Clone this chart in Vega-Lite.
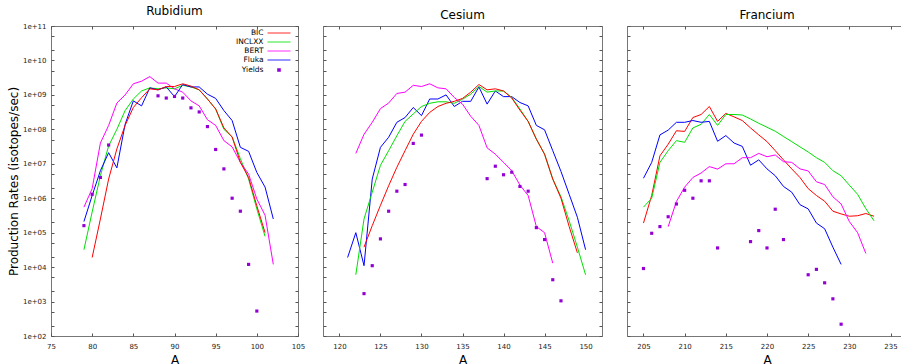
{
  "$schema": "https://vega.github.io/schema/vega-lite/v6.json",
  "autosize": {"type": "pad"},
  "padding": {"left": 6, "top": 4, "right": 0, "bottom": 0},
  "background": "white",
  "spacing": 25,
  "bounds": "flush",
  "config": {
    "font": "DejaVu Sans",
    "view": {"stroke": "#777", "strokeWidth": 1},
    "title": {"fontSize": 12, "fontWeight": "normal", "anchor": "middle", "baseline": "alphabetic", "offset": 4, "color": "#000", "font": "DejaVu Sans"},
    "axis": {"domain": false, "grid": false, "ticks": true, "tickSize": -3, "tickColor": "#555", "tickWidth": 1, "labelFontSize": 7, "labelColor": "#222", "labelFont": "DejaVu Sans", "labelFlush": false, "labelOverlap": false, "titleFontSize": 12, "titleFontWeight": "normal", "titleColor": "#000", "titleFont": "DejaVu Sans"},
    "axisX": {"labelPadding": 9, "titlePadding": 5},
    "axisY": {"labelPadding": 8, "titlePadding": 2}
  },
  "data": {"values": [
    {"p":"Rb","A":79,"INCLXX":3.2e4,"BERT":5.5e5,"Fluka":2.1e5,"Yields":1.6e5},
    {"p":"Rb","A":80,"BIC":1.9e4,"INCLXX":4e5,"BERT":1.9e6,"Fluka":1.2e6,"Yields":1.3e6},
    {"p":"Rb","A":81,"BIC":2.5e5,"INCLXX":4.5e6,"BERT":4e7,"Fluka":6.3e6,"Yields":4e6},
    {"p":"Rb","A":82,"BIC":3.6e6,"INCLXX":3.3e7,"BERT":1.3e8,"Fluka":2.1e7,"Yields":3.5e7},
    {"p":"Rb","A":83,"BIC":2.7e7,"INCLXX":1e8,"BERT":5.8e8,"Fluka":7.6e6},
    {"p":"Rb","A":84,"BIC":1.3e8,"INCLXX":3.5e8,"BERT":1e9,"Fluka":1.4e8},
    {"p":"Rb","A":85,"BIC":4.3e8,"INCLXX":7.6e8,"BERT":2.1e9,"Fluka":6.7e8},
    {"p":"Rb","A":86,"BIC":8.3e8,"INCLXX":1.3e9,"BERT":2.5e9,"Fluka":4.8e8},
    {"p":"Rb","A":87,"BIC":1.5e9,"INCLXX":1.6e9,"BERT":3.4e9,"Fluka":1.6e9},
    {"p":"Rb","A":88,"BIC":1.4e9,"INCLXX":1.5e9,"BERT":2.2e9,"Fluka":1.4e9,"Yields":9.4e8},
    {"p":"Rb","A":89,"BIC":1.75e9,"INCLXX":1.6e9,"BERT":2.2e9,"Fluka":1.7e9,"Yields":8.1e8},
    {"p":"Rb","A":90,"BIC":1.75e9,"INCLXX":1.5e9,"BERT":1.5e9,"Fluka":8.9e8,"Yields":9e8},
    {"p":"Rb","A":91,"BIC":2.1e9,"INCLXX":1.9e9,"BERT":1.2e9,"Fluka":2e9,"Yields":8.1e8},
    {"p":"Rb","A":92,"BIC":1.8e9,"INCLXX":1.7e9,"BERT":6.7e8,"Fluka":1.7e9,"Yields":4.2e8},
    {"p":"Rb","A":93,"BIC":1.4e9,"INCLXX":1.4e9,"BERT":4.8e8,"Fluka":1.7e9,"Yields":3.2e8},
    {"p":"Rb","A":94,"BIC":7.6e8,"INCLXX":7.6e8,"BERT":1.9e8,"Fluka":1.05e9,"Yields":1.2e8},
    {"p":"Rb","A":95,"BIC":3.9e8,"INCLXX":3.9e8,"BERT":1.3e8,"Fluka":7.9e8,"Yields":2.6e7},
    {"p":"Rb","A":96,"BIC":1.1e8,"INCLXX":1e8,"BERT":4.7e7,"Fluka":3.5e8,"Yields":7.1e6},
    {"p":"Rb","A":97,"BIC":6e7,"INCLXX":6e7,"BERT":3.1e7,"Fluka":1.8e8,"Yields":1e6},
    {"p":"Rb","A":98,"BIC":1.1e7,"INCLXX":1.4e7,"BERT":1.1e7,"Fluka":3e7,"Yields":4.2e5},
    {"p":"Rb","A":99,"BIC":4e6,"INCLXX":3.6e6,"BERT":5e6,"Fluka":2.3e7,"Yields":1.2e4},
    {"p":"Rb","A":100,"BIC":6e5,"INCLXX":4.9e5,"BERT":9.5e5,"Fluka":5.6e6,"Yields":5.3e2},
    {"p":"Rb","A":101,"BIC":1e5,"INCLXX":7.8e4,"BERT":3.2e5,"Fluka":2.1e6},
    {"p":"Rb","A":102,"BERT":1.2e4,"Fluka":2.5e5},
    {"p":"Cs","A":121,"Fluka":1.9e4},
    {"p":"Cs","A":122,"INCLXX":6e3,"BERT":2e7,"Fluka":1e5},
    {"p":"Cs","A":123,"BIC":3.8e4,"INCLXX":2.5e5,"BERT":7.2e7,"Fluka":1.1e4,"Yields":1.7e3},
    {"p":"Cs","A":124,"BIC":1.6e5,"INCLXX":1.5e6,"BERT":1.6e8,"Fluka":3.6e6,"Yields":1.1e4},
    {"p":"Cs","A":125,"BIC":6.2e5,"INCLXX":9e6,"BERT":4e8,"Fluka":3e7,"Yields":6.6e4},
    {"p":"Cs","A":126,"BIC":2.3e6,"INCLXX":2.4e7,"BERT":5.8e8,"Fluka":5.9e7,"Yields":4.2e5},
    {"p":"Cs","A":127,"BIC":7.9e6,"INCLXX":6.5e7,"BERT":1.1e9,"Fluka":1.6e8,"Yields":1.6e6},
    {"p":"Cs","A":128,"BIC":2.4e7,"INCLXX":1.7e8,"BERT":1.2e9,"Fluka":2.2e8,"Yields":2.5e6},
    {"p":"Cs","A":129,"BIC":7.2e7,"INCLXX":2.8e8,"BERT":1.9e9,"Fluka":4.3e8,"Yields":3.9e7},
    {"p":"Cs","A":130,"BIC":1.7e8,"INCLXX":4.6e8,"BERT":1.75e9,"Fluka":2.5e8,"Yields":6.8e7},
    {"p":"Cs","A":131,"BIC":3.1e8,"INCLXX":5.7e8,"BERT":2.1e9,"Fluka":7.6e8},
    {"p":"Cs","A":132,"BIC":4.6e8,"INCLXX":6.3e8,"BERT":1.6e9,"Fluka":7.6e8},
    {"p":"Cs","A":133,"BIC":5.7e8,"INCLXX":6.3e8,"BERT":1.5e9,"Fluka":1e9},
    {"p":"Cs","A":134,"BIC":6.5e8,"INCLXX":5.7e8,"BERT":8.4e8,"Fluka":4.6e8},
    {"p":"Cs","A":135,"BIC":7.9e8,"INCLXX":7.5e8,"BERT":5.4e8,"Fluka":6.5e8},
    {"p":"Cs","A":136,"BIC":1.2e9,"INCLXX":1.05e9,"BERT":2.4e8,"Fluka":6.5e8},
    {"p":"Cs","A":137,"BIC":2e9,"INCLXX":1.75e9,"BERT":1.3e8,"Fluka":1.7e9},
    {"p":"Cs","A":138,"BIC":1.4e9,"INCLXX":1.2e9,"BERT":2.9e7,"Fluka":5.4e8,"Yields":3.7e6},
    {"p":"Cs","A":139,"BIC":1.5e9,"INCLXX":1.3e9,"BERT":1.9e7,"Fluka":1.3e9,"Yields":8.5e6},
    {"p":"Cs","A":140,"BIC":1.3e9,"INCLXX":1.3e9,"BERT":1.1e7,"Fluka":8.9e8,"Yields":4.8e6},
    {"p":"Cs","A":141,"BIC":8.1e8,"INCLXX":8.4e8,"BERT":6.3e6,"Fluka":8.9e8,"Yields":5.7e6},
    {"p":"Cs","A":142,"BIC":3.6e8,"INCLXX":3.9e8,"BERT":2.4e6,"Fluka":6e8,"Yields":2.2e6},
    {"p":"Cs","A":143,"BIC":1.7e8,"INCLXX":1.7e8,"BERT":1.2e6,"Fluka":4.8e8,"Yields":1.6e6},
    {"p":"Cs","A":144,"BIC":5.2e7,"INCLXX":5.2e7,"BERT":1.5e5,"Fluka":1.3e8,"Yields":1.4e5},
    {"p":"Cs","A":145,"BIC":1.9e7,"INCLXX":1.9e7,"BERT":1e5,"Fluka":9.7e7,"Yields":6.3e4},
    {"p":"Cs","A":146,"BIC":3.6e6,"INCLXX":3.6e6,"BERT":1.3e4,"Fluka":2.4e7,"Yields":4.3e3},
    {"p":"Cs","A":147,"BIC":1e6,"INCLXX":1.1e6,"Fluka":6e6,"Yields":1.05e3},
    {"p":"Cs","A":148,"BIC":1.5e5,"INCLXX":2.2e5,"Fluka":1.3e6},
    {"p":"Cs","A":149,"BIC":2.6e4,"INCLXX":3.8e4,"Fluka":2.8e5},
    {"p":"Cs","A":150,"INCLXX":6e3,"Fluka":3.2e4},
    {"p":"Fr","A":205,"BIC":1.9e5,"INCLXX":5.5e5,"Fluka":3.8e6,"Yields":9.1e3},
    {"p":"Fr","A":206,"BIC":1.2e6,"INCLXX":1e6,"Fluka":1.1e7,"Yields":9.6e4},
    {"p":"Fr","A":207,"BIC":1.7e7,"INCLXX":1.1e7,"Fluka":6.9e7,"Yields":1.5e5},
    {"p":"Fr","A":208,"BIC":3.7e7,"INCLXX":2.4e7,"BERT":1.5e5,"Fluka":9.5e7,"Yields":2.9e5},
    {"p":"Fr","A":209,"BIC":9.1e7,"INCLXX":4.7e7,"BERT":8e5,"Fluka":1.6e8,"Yields":6.8e5},
    {"p":"Fr","A":210,"BIC":8.7e7,"INCLXX":4.2e7,"BERT":2.1e6,"Fluka":1.6e8,"Yields":1.7e6},
    {"p":"Fr","A":211,"BIC":2.2e8,"INCLXX":1.1e8,"BERT":4e6,"Fluka":1.8e8,"Yields":1e6},
    {"p":"Fr","A":212,"BIC":2.7e8,"INCLXX":1.4e8,"BERT":5.4e6,"Fluka":1.6e8,"Yields":3.2e6},
    {"p":"Fr","A":213,"BIC":4.6e8,"INCLXX":2.7e8,"BERT":8.3e6,"Fluka":1.7e8,"Yields":3.2e6},
    {"p":"Fr","A":214,"BIC":1.7e8,"INCLXX":1.3e8,"BERT":7e6,"Fluka":4.5e7,"Yields":3.6e4},
    {"p":"Fr","A":215,"BIC":2.9e8,"INCLXX":2.7e8,"BERT":1e7,"Fluka":6.6e7},
    {"p":"Fr","A":216,"BIC":2.3e8,"INCLXX":2.7e8,"BERT":1e7,"Fluka":4e7},
    {"p":"Fr","A":217,"BIC":1.8e8,"INCLXX":2.6e8,"BERT":1.5e7,"Fluka":3.2e7},
    {"p":"Fr","A":218,"BIC":1.1e8,"INCLXX":2e8,"BERT":1.5e7,"Fluka":9.1e6,"Yields":5.5e4},
    {"p":"Fr","A":219,"BIC":6.9e7,"INCLXX":1.5e8,"BERT":2e7,"Fluka":1.3e7,"Yields":1.15e5},
    {"p":"Fr","A":220,"BIC":4.4e7,"INCLXX":1.15e8,"BERT":1.6e7,"Fluka":7.1e6,"Yields":3.6e4},
    {"p":"Fr","A":221,"BIC":2.4e7,"INCLXX":8.8e7,"BERT":1.8e7,"Fluka":4.5e6,"Yields":4.8e5},
    {"p":"Fr","A":222,"BIC":1.3e7,"INCLXX":6.2e7,"BERT":1.15e7,"Fluka":2.2e6,"Yields":6.3e4},
    {"p":"Fr","A":223,"BIC":7.1e6,"INCLXX":4.4e7,"BERT":1.1e7,"Fluka":1.5e6},
    {"p":"Fr","A":224,"BIC":4e6,"INCLXX":3.1e7,"BERT":7.1e6,"Fluka":6.5e5},
    {"p":"Fr","A":225,"BIC":1.9e6,"INCLXX":2.2e7,"BERT":6.2e6,"Fluka":4.9e5,"Yields":6e3},
    {"p":"Fr","A":226,"BIC":1.2e6,"INCLXX":1.5e7,"BERT":3e6,"Fluka":1.9e5,"Yields":8.6e3},
    {"p":"Fr","A":227,"BIC":8.2e5,"INCLXX":1.1e7,"BERT":2.5e6,"Fluka":1.3e5,"Yields":3.5e3},
    {"p":"Fr","A":228,"BIC":4.2e5,"INCLXX":6.3e6,"BERT":1.1e6,"Fluka":3.8e4,"Yields":1.2e3},
    {"p":"Fr","A":229,"BIC":3.5e5,"INCLXX":4.5e6,"BERT":6.8e5,"Fluka":1.2e4,"Yields":2.2e2},
    {"p":"Fr","A":230,"BIC":3e5,"INCLXX":2.4e6,"BERT":2.1e5},
    {"p":"Fr","A":231,"BIC":3.1e5,"INCLXX":1.3e6,"BERT":1e5},
    {"p":"Fr","A":232,"BIC":3.6e5,"INCLXX":5e5,"BERT":2.5e4},
    {"p":"Fr","A":233,"BIC":3e5,"INCLXX":2.2e5}
  ]},
  "resolve": {"scale": {"color": "independent"}, "legend": {"color": "independent"}},
  "hconcat": [
    {
      "width": 247, "height": 310,
      "title": "Rubidium",
      "transform": [{"filter": "datum.p == 'Rb'"}],
      "resolve": {"axis": {"x": "independent", "y": "independent"}},
      "layer": [
        {
          "transform": [{"fold": ["BIC", "INCLXX", "BERT", "Fluka"], "as": ["s", "r"]}, {"filter": "isValid(datum.r)"}],
          "mark": {"type": "line", "strokeWidth": 1},
          "encoding": {
            "x": {"field": "A", "type": "quantitative", "scale": {"domain": [75, 105], "nice": false, "zero": false}, "axis": {"orient": "bottom", "values": [75, 80, 85, 90, 95, 100, 105], "title": "A"}},
            "y": {"field": "r", "type": "quantitative", "scale": {"type": "log", "domain": [100, 1e11], "nice": false}, "axis": {"orient": "left", "title": "Production Rates (isotopes/sec)", "values": [100,200,500,1000,2000,5000,1e4,2e4,5e4,1e5,2e5,5e5,1e6,2e6,5e6,1e7,2e7,5e7,1e8,2e8,5e8,1e9,2e9,5e9,1e10,2e10,5e10,1e11], "labelExpr": "abs(datum.value / pow(10, round(log(datum.value)/LN10)) - 1) < 0.01 ? '1e+' + (round(log(datum.value)/LN10) < 10 ? '0' : '') + round(log(datum.value)/LN10) : ''"}},
            "color": {"field": "s", "type": "nominal", "scale": {"domain": ["BIC", "INCLXX", "BERT", "Fluka", "Yields"], "range": ["#ff0000", "#00e000", "#ff00ff", "#0000ff", "#9400d3"]},
              "legend": {"orient": "none", "legendX": 224, "legendY": 3, "title": null, "padding": 0, "labelAlign": "right", "labelOffset": -19.5, "labelFontSize": 7.5, "labelColor": "#000", "symbolSize": 36, "symbolStrokeWidth": 1.5, "rowPadding": 1,
                "encode": {"symbols": {"update": {
                  "shape": {"signal": "datum.value === 'Yields' ? 'M-0.35,-0.35H0.35V0.35H-0.35Z' : 'M-3.83,0H3.83'"},
                  "fill": {"signal": "datum.value === 'Yields' ? '#9400d3' : 'transparent'"},
                  "opacity": {"signal": "datum.value === 'Yields' ? 1 : 0.55"}
                }}}}}
          }
        },
        {
          "transform": [{"filter": "isValid(datum.Yields)"}],
          "mark": {"type": "square", "size": 10, "color": "#9400d3", "opacity": 1},
          "encoding": {
            "x": {"field": "A", "type": "quantitative", "scale": {"domain": [75, 105], "nice": false, "zero": false}, "axis": {"orient": "top", "values": [75, 80, 85, 90, 95, 100, 105], "labels": false, "title": null}},
            "y": {"field": "Yields", "type": "quantitative", "scale": {"type": "log", "domain": [100, 1e11], "nice": false}, "axis": {"orient": "right", "labels": false, "title": null, "values": [100,200,500,1000,2000,5000,1e4,2e4,5e4,1e5,2e5,5e5,1e6,2e6,5e6,1e7,2e7,5e7,1e8,2e8,5e8,1e9,2e9,5e9,1e10,2e10,5e10,1e11]}}
          }
        }
      ]
    },
    {
      "width": 279, "height": 310,
      "title": "Cesium",
      "transform": [{"filter": "datum.p == 'Cs'"}],
      "resolve": {"axis": {"x": "independent", "y": "independent"}},
      "layer": [
        {
          "transform": [{"fold": ["BIC", "INCLXX", "BERT", "Fluka"], "as": ["s", "r"]}, {"filter": "isValid(datum.r)"}],
          "mark": {"type": "line", "strokeWidth": 1},
          "encoding": {
            "x": {"field": "A", "type": "quantitative", "scale": {"domain": [118, 152], "nice": false, "zero": false}, "axis": {"orient": "bottom", "values": [120, 125, 130, 135, 140, 145, 150], "title": "A"}},
            "y": {"field": "r", "type": "quantitative", "scale": {"type": "log", "domain": [100, 1e11], "nice": false}, "axis": {"orient": "left", "title": null, "labels": false, "values": [100,200,500,1000,2000,5000,1e4,2e4,5e4,1e5,2e5,5e5,1e6,2e6,5e6,1e7,2e7,5e7,1e8,2e8,5e8,1e9,2e9,5e9,1e10,2e10,5e10,1e11]}},
            "color": {"field": "s", "type": "nominal", "scale": {"domain": ["BIC", "INCLXX", "BERT", "Fluka", "Yields"], "range": ["#ff0000", "#00e000", "#ff00ff", "#0000ff", "#9400d3"]}, "legend": null}
          }
        },
        {
          "transform": [{"filter": "isValid(datum.Yields)"}],
          "mark": {"type": "square", "size": 10, "color": "#9400d3", "opacity": 1},
          "encoding": {
            "x": {"field": "A", "type": "quantitative", "scale": {"domain": [118, 152], "nice": false, "zero": false}, "axis": {"orient": "top", "values": [120, 125, 130, 135, 140, 145, 150], "labels": false, "title": null}},
            "y": {"field": "Yields", "type": "quantitative", "scale": {"type": "log", "domain": [100, 1e11], "nice": false}, "axis": {"orient": "right", "labels": false, "title": null, "values": [100,200,500,1000,2000,5000,1e4,2e4,5e4,1e5,2e5,5e5,1e6,2e6,5e6,1e7,2e7,5e7,1e8,2e8,5e8,1e9,2e9,5e9,1e10,2e10,5e10,1e11]}}
          }
        }
      ]
    },
    {
      "width": 280, "height": 310,
      "title": "Francium",
      "transform": [{"filter": "datum.p == 'Fr'"}],
      "resolve": {"axis": {"x": "independent", "y": "independent"}},
      "layer": [
        {
          "transform": [{"fold": ["BIC", "INCLXX", "BERT", "Fluka"], "as": ["s", "r"]}, {"filter": "isValid(datum.r)"}],
          "mark": {"type": "line", "strokeWidth": 1},
          "encoding": {
            "x": {"field": "A", "type": "quantitative", "scale": {"domain": [203, 237], "nice": false, "zero": false}, "axis": {"orient": "bottom", "values": [205, 210, 215, 220, 225, 230, 235], "title": "A"}},
            "y": {"field": "r", "type": "quantitative", "scale": {"type": "log", "domain": [100, 1e11], "nice": false}, "axis": {"orient": "left", "title": null, "labels": false, "values": [100,200,500,1000,2000,5000,1e4,2e4,5e4,1e5,2e5,5e5,1e6,2e6,5e6,1e7,2e7,5e7,1e8,2e8,5e8,1e9,2e9,5e9,1e10,2e10,5e10,1e11]}},
            "color": {"field": "s", "type": "nominal", "scale": {"domain": ["BIC", "INCLXX", "BERT", "Fluka", "Yields"], "range": ["#ff0000", "#00e000", "#ff00ff", "#0000ff", "#9400d3"]}, "legend": null}
          }
        },
        {
          "transform": [{"filter": "isValid(datum.Yields)"}],
          "mark": {"type": "square", "size": 10, "color": "#9400d3", "opacity": 1},
          "encoding": {
            "x": {"field": "A", "type": "quantitative", "scale": {"domain": [203, 237], "nice": false, "zero": false}, "axis": {"orient": "top", "values": [205, 210, 215, 220, 225, 230, 235], "labels": false, "title": null}},
            "y": {"field": "Yields", "type": "quantitative", "scale": {"type": "log", "domain": [100, 1e11], "nice": false}, "axis": {"orient": "right", "labels": false, "title": null, "values": [100,200,500,1000,2000,5000,1e4,2e4,5e4,1e5,2e5,5e5,1e6,2e6,5e6,1e7,2e7,5e7,1e8,2e8,5e8,1e9,2e9,5e9,1e10,2e10,5e10,1e11]}}
          }
        }
      ]
    }
  ]
}
